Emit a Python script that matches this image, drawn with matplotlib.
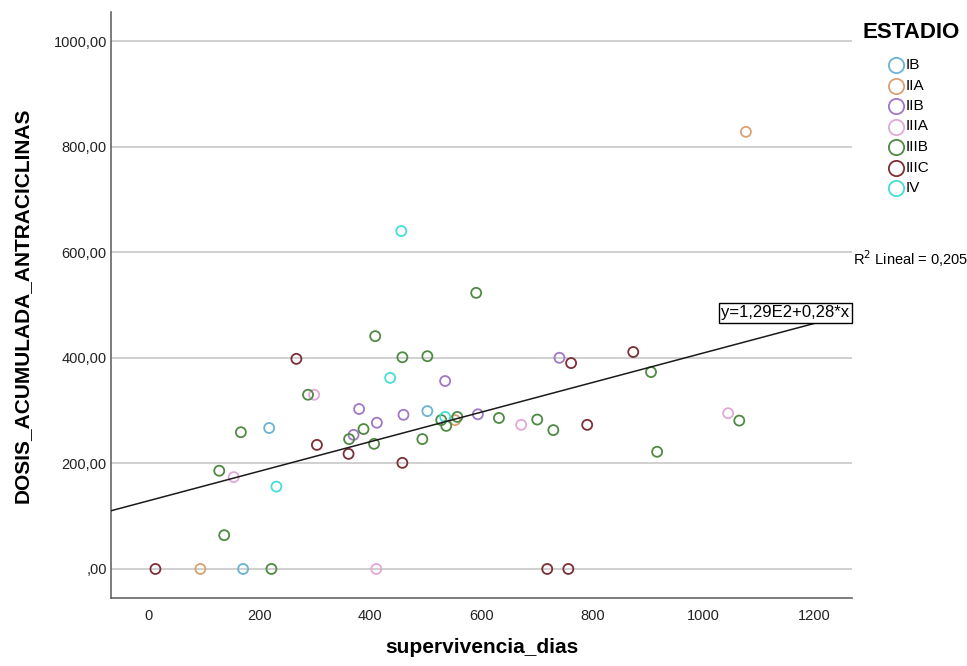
import numpy as np
import matplotlib
matplotlib.use("Agg")
import matplotlib.pyplot as plt
from matplotlib.lines import Line2D

plt.rcParams["font.family"] = ["Liberation Sans", "DejaVu Sans"]

# ---- data ----
STAGES = ["IB", "IIA", "IIB", "IIIA", "IIIB", "IIIC", "IV"]
COLORS = ["#6ab4d2", "#d9a272", "#9f78c6", "#e2a8d6", "#4f8a43", "#7c2f35", "#46ddd6"]

ib_x = [503, 218, 171]
ib_y = [299, 267, 0]
iia_x = [1077, 94, 553]
iia_y = [828, 0, 282]
iib_x = [535, 380, 412, 460, 594, 741, 370]
iib_y = [356, 303, 277, 292, 293, 400, 254]
iiia_x = [299, 154, 411, 672, 1045]
iiia_y = [330, 174, 0, 273, 295]
iiib_x = [591, 409, 458, 503, 288, 557, 528, 632, 537, 167, 362, 388, 407,
          494, 128, 137, 222, 701, 730, 906, 917, 1065]
iiib_y = [523, 441, 401, 403, 330, 288, 282, 286, 271, 259, 246, 265, 237,
          246, 186, 64, 0, 283, 263, 373, 222, 281]
iiic_x = [267, 304, 361, 458, 13, 719, 757, 762, 874, 791]
iiic_y = [398, 235, 218, 201, 0, 0, 0, 390, 411, 273]
iv_x = [456, 436, 535, 231]
iv_y = [640, 362, 288, 156]

SERIES_X = [ib_x, iia_x, iib_x, iiia_x, iiib_x, iiic_x, iv_x]
SERIES_Y = [ib_y, iia_y, iib_y, iiia_y, iiib_y, iiic_y, iv_y]

# linear fit as reported in the chart
INTERCEPT = 129
SLOPE = 0.28
R2 = "0,205"

Y_TICKS = [0, 200, 400, 600, 800, 1000]
X_TICKS = [0, 200, 400, 600, 800, 1000, 1200]


def fmt_y(v):
    s = "{:.2f}".format(v).replace(".", ",")
    return s.lstrip("0") if v == 0 else s


fig = plt.figure(figsize=(9.67, 6.66), dpi=100)
ax = fig.add_axes([0.1148, 0.1021, 0.7662, 0.8799])

xmin, xmax = -67, 1268
ymin, ymax = -55, 1055
ax.set_xlim(xmin, xmax)
ax.set_ylim(ymin, ymax)

# grid
for yt in Y_TICKS:
    ax.axhline(yt, color="#c4c4c4", lw=1.1, zorder=0)

for xs, ys, c in zip(SERIES_X, SERIES_Y, COLORS):
    ax.scatter(xs, ys, s=52, facecolors="none", edgecolors=c, linewidths=1.3, zorder=3)

# fit line
lx = np.array([xmin, xmax])
ax.plot(lx, INTERCEPT + SLOPE * lx, color="#1a1a1a", lw=1.1, zorder=4)
ax.text(1148, 485, "y=1,29E2+0,28*x", ha="center", va="center", fontsize=12,
        zorder=5, bbox=dict(boxstyle="square,pad=0.15", fc="white", ec="black", lw=1))

ax.set_yticks(Y_TICKS)
ax.set_yticklabels([fmt_y(v) for v in Y_TICKS])
ax.set_xticks(X_TICKS)
ax.tick_params(length=0, labelsize=10.5, colors="#222222")
ax.tick_params(axis="x", pad=8)
ax.tick_params(axis="y", pad=3)

for s in ["top", "right"]:
    ax.spines[s].set_visible(False)
for s in ["left", "bottom"]:
    ax.spines[s].set_color("#666666")
    ax.spines[s].set_linewidth(1.2)

ax.set_xlabel("supervivencia_dias", fontsize=15, fontweight="bold")
ax.xaxis.set_label_coords(0.5, -0.068)
ax.set_ylabel("DOSIS_ACUMULADA_ANTRACICLINAS", fontsize=15, fontweight="bold")
ax.yaxis.set_label_coords(-0.107, 0.5)

# legend (manual, outside the axes)
fig.text(863 / 967, 1 - 33 / 666, "ESTADIO", fontsize=16, fontweight="bold",
         va="center", ha="left")
for i, (name, c) in enumerate(zip(STAGES, COLORS)):
    yy = 1 - (65 + i * 20.5) / 666
    fig.add_artist(Line2D([896 / 967], [yy], marker="o", ms=11, mfc="none",
                          mec=c, mew=1.3, ls="none", transform=fig.transFigure))
    fig.text(906 / 967, yy, name, fontsize=11, va="center", ha="left")

fig.text(853 / 967, 1 - 259 / 666, "R$^2$ Lineal = " + R2, fontsize=10.5,
         va="center", ha="left")

fig.savefig("out.png", dpi=100)
